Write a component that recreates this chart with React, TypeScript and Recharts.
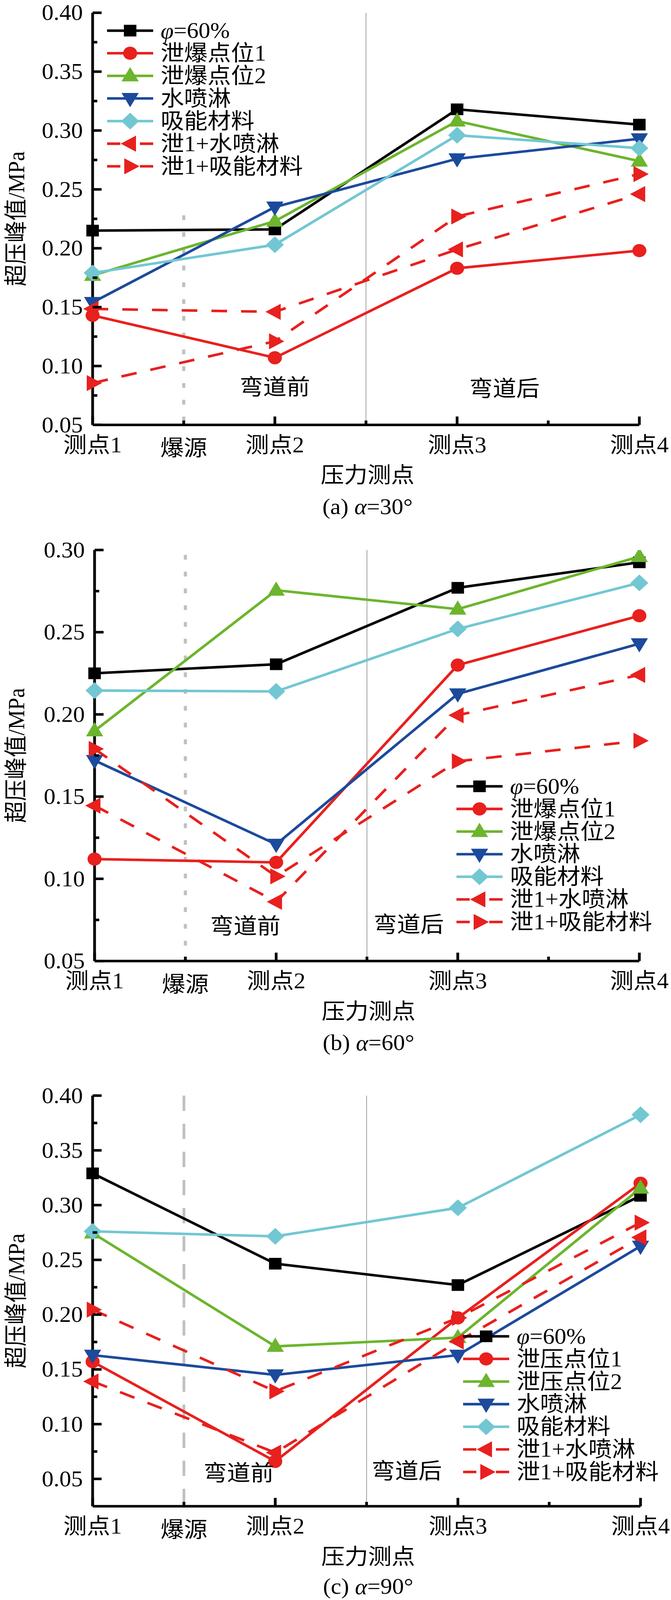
import React from 'react';
import {
  LineChart,
  Line,
  XAxis,
  YAxis,
  ReferenceLine,
  ReferenceDot,
  Legend,
} from 'recharts';

const FONT = "'Liberation Serif', 'Times New Roman', 'Noto Sans CJK SC', serif";
const W = 1717;
const H = 4387;

// x positions of the pressure points (爆源 sits halfway between 测点1 and 测点2)
const xPos = [0, 1, 2, 3];
const xTicks = [0, 0.5, 1, 1.5, 2, 2.5, 3];
const xTickLabels: Record<string, string> = {
  '0': '测点1',
  '0.5': '爆源',
  '1': '测点2',
  '2': '测点3',
  '3': '测点4',
};

const yTicks40 = [0.05, 0.075, 0.1, 0.125, 0.15, 0.175, 0.2, 0.225, 0.25, 0.275, 0.3, 0.325, 0.35, 0.375, 0.4];
const yTicks30 = [0.05, 0.075, 0.1, 0.125, 0.15, 0.175, 0.2, 0.225, 0.25, 0.275, 0.3];

const legendAB = ['φ=60%', '泄爆点位1', '泄爆点位2', '水喷淋', '吸能材料', '泄1+水喷淋', '泄1+吸能材料'];
const legendC = ['φ=60%', '泄压点位1', '泄压点位2', '水喷淋', '吸能材料', '泄1+水喷淋', '泄1+吸能材料'];

// (a) α=30°
const aPhi60 = [0.215, 0.216, 0.318, 0.305];
const aVent1 = [0.143, 0.107, 0.183, 0.198];
const aVent2 = [0.177, 0.223, 0.308, 0.274];
const aSpray = [0.154, 0.235, 0.276, 0.293];
const aAbsorb = [0.179, 0.203, 0.296, 0.285];
const aVent1Spray = [0.1485, 0.146, 0.199, 0.246];
const aVent1Absorb = [0.0855, 0.121, 0.227, 0.263];

// (b) α=60°
const bPhi60 = [0.225, 0.2305, 0.277, 0.2925];
const bVent1 = [0.112, 0.11, 0.23, 0.26];
const bVent2 = [0.19, 0.2755, 0.264, 0.296];
const bSpray = [0.172, 0.121, 0.2125, 0.243];
const bAbsorb = [0.2145, 0.214, 0.252, 0.28];
const bVent1Spray = [0.1445, 0.086, 0.1995, 0.224];
const bVent1Absorb = [0.179, 0.1015, 0.1715, 0.184];

// (c) α=90°
const cPhi60 = [0.329, 0.2465, 0.227, 0.3085];
const cVent1 = [0.157, 0.066, 0.197, 0.32];
const cVent2 = [0.2745, 0.171, 0.179, 0.3155];
const cSpray = [0.163, 0.145, 0.163, 0.2625];
const cAbsorb = [0.276, 0.2715, 0.2975, 0.3825];
const cVent1Spray = [0.139, 0.074, 0.1755, 0.2705];
const cVent1Absorb = [0.2045, 0.13, 0.197, 0.284];

const series = [
  { key: 'phi', color: '#000000', shape: 'square', dashed: false },
  { key: 'vent1', color: '#e8201e', shape: 'circle', dashed: false },
  { key: 'vent2', color: '#6cb52d', shape: 'up', dashed: false },
  { key: 'spray', color: '#1c4a9c', shape: 'down', dashed: false },
  { key: 'absorb', color: '#72c7d3', shape: 'diamond', dashed: false },
  { key: 'v1spray', color: '#e8201e', shape: 'left', dashed: true },
  { key: 'v1absorb', color: '#e8201e', shape: 'right', dashed: true },
];

const build = (cols: number[][]) =>
  xPos.map((x, i) => {
    const row: any = { x };
    series.forEach((s, j) => (row[s.key] = cols[j][i]));
    return row;
  });

const panels = [
  {
    id: 'a', top: 0, height: 1440, plotTop: 35, plotBottom: 1165, plotLeft: 237, plotRight: 1636,
    yDomain: [0.05, 0.4], yTicks: yTicks40,
    data: build([aPhi60, aVent1, aVent2, aSpray, aAbsorb, aVent1Spray, aVent1Absorb]),
    labels: legendAB, legend: { left: 274, top: 53 },
    caption: ['(a) ', 'α', '=30°'], capY: 224,
    srcTop: 0.228, srcDash: '13 33', srcWidth: 8,
    notes: [{ x: 1.0, y: 0.0825, text: '弯道前' }, { x: 2.26, y: 0.081, text: '弯道后' }],
  },
  {
    id: 'b', top: 1440, height: 1460, plotTop: 1508, plotBottom: 2635, plotLeft: 242, plotRight: 1636,
    yDomain: [0.05, 0.3], yTicks: yTicks30,
    data: build([bPhi60, bVent1, bVent2, bSpray, bAbsorb, bVent1Spray, bVent1Absorb]),
    labels: legendAB, legend: { left: 1168, top: 685 },
    caption: ['(b) ', 'α', '=60°'], capY: 224,
    srcTop: 0.297, srcDash: '13 33', srcWidth: 8,
    notes: [{ x: 0.83, y: 0.0713, text: '弯道前' }, { x: 1.73, y: 0.0724, text: '弯道后' }],
  },
  {
    id: 'c', top: 2900, height: 1487, plotTop: 3004, plotBottom: 4130, plotLeft: 237, plotRight: 1639,
    yDomain: [0.025, 0.4], yTicks: yTicks40,
    data: build([cPhi60, cVent1, cVent2, cSpray, cAbsorb, cVent1Spray, cVent1Absorb]),
    labels: legendC, legend: { left: 1185, top: 733 },
    caption: ['(c) ', 'α', '=90°'], capY: 220,
    srcTop: 0.4, srcDash: '42 35', srcWidth: 7,
    notes: [{ x: 0.8, y: 0.0557, text: '弯道前' }, { x: 1.72, y: 0.0574, text: '弯道后' }],
  },
];

const Marker = ({ shape, cx, cy, color }: any) => {
  if (cx == null || cy == null) return null;
  switch (shape) {
    case 'square':
      return <rect x={cx - 16} y={cy - 16} width={32} height={32} fill={color} />;
    case 'circle':
      return <circle cx={cx} cy={cy} r={18} fill={color} />;
    case 'up':
      return <polygon points={`${cx},${cy - 24} ${cx - 22},${cy + 15} ${cx + 22},${cy + 15}`} fill={color} />;
    case 'down':
      return <polygon points={`${cx},${cy + 24} ${cx - 22},${cy - 15} ${cx + 22},${cy - 15}`} fill={color} />;
    case 'diamond':
      return <polygon points={`${cx},${cy - 23} ${cx + 23},${cy} ${cx},${cy + 23} ${cx - 23},${cy}`} fill={color} />;
    case 'left':
      return <polygon points={`${cx - 24},${cy} ${cx + 15},${cy - 22} ${cx + 15},${cy + 22}`} fill={color} />;
    case 'right':
      return <polygon points={`${cx + 24},${cy} ${cx - 15},${cy - 22} ${cx - 15},${cy + 22}`} fill={color} />;
    default:
      return null;
  }
};

const XTick = ({ x, y, payload }: any) => {
  const v = payload.value;
  const major = Number.isInteger(v);
  const label = xTickLabels[String(v)];
  return (
    <g>
      <line x1={x} x2={x} y1={y} y2={y - (major ? 23 : 12)} stroke="#000" strokeWidth={7} />
      {label && (
        <text x={x} y={y + 55 + (v === 0.5 ? 9 : 0)} textAnchor="middle" dominantBaseline="central"
          fontSize={60} fontFamily={FONT} fill="#000">
          {label}
        </text>
      )}
    </g>
  );
};

const YTick = ({ x, y, payload }: any) => {
  const v = payload.value;
  const major = Math.abs(v * 20 - Math.round(v * 20)) < 1e-6;
  return (
    <g>
      <line x1={x} x2={x + (major ? 23 : 12)} y1={y} y2={y} stroke="#000" strokeWidth={7} />
      {major && (
        <text x={x - 25} y={y} textAnchor="end" dominantBaseline="central" fontSize={60} fontFamily={FONT} fill="#000">
          {v.toFixed(2)}
        </text>
      )}
    </g>
  );
};

const LegendBox = ({ labels }: { labels: string[] }) => (
  <svg width={560} height={460} style={{ overflow: 'visible', display: 'block' }}>
    {series.map((s, i) => {
      const cy = 31 + i * 62;
      const text = labels[i];
      return (
        <g key={s.key}>
          {s.dashed ? (
            <>
              <line x1={0} x2={34} y1={cy} y2={cy} stroke={s.color} strokeWidth={7} />
              <line x1={84} x2={118} y1={cy} y2={cy} stroke={s.color} strokeWidth={7} />
            </>
          ) : (
            <line x1={0} x2={118} y1={cy} y2={cy} stroke={s.color} strokeWidth={7} />
          )}
          <Marker shape={s.shape} cx={59} cy={cy} color={s.color} />
          <text x={137} y={cy} dominantBaseline="central" fontSize={60} fontFamily={FONT} fill="#000">
            {text.startsWith('φ') ? (
              <>
                <tspan fontStyle="italic">φ</tspan>
                {text.slice(1)}
              </>
            ) : (
              text
            )}
          </text>
        </g>
      );
    })}
  </svg>
);

const Panel = ({ p }: { p: (typeof panels)[number] }) => {
  const marginTop = p.plotTop - p.top;
  const xAxisHeight = p.height - (p.plotBottom - p.top);
  const right = W - p.plotRight;
  return (
    <div style={{ position: 'absolute', left: 0, top: p.top, width: W, height: p.height }}>
      <LineChart width={W} height={p.height} data={p.data}
        margin={{ top: marginTop, right, left: 0, bottom: 0 }}>
        <XAxis dataKey="x" type="number" domain={[0, 3]} ticks={xTicks} interval={0}
          axisLine={{ stroke: '#000', strokeWidth: 7 }} tickLine={false} tickSize={0} tickMargin={0}
          height={xAxisHeight} tick={<XTick />}
          label={({ viewBox }: any) => (
            <g>
              <text x={viewBox.x + viewBox.width / 2 + 4} y={viewBox.y + 138} textAnchor="middle"
                dominantBaseline="central" fontSize={60} fontFamily={FONT} fill="#000">
                压力测点
              </text>
              <text x={viewBox.x + viewBox.width / 2 + 4} y={viewBox.y + p.capY} textAnchor="middle"
                dominantBaseline="central" fontSize={60} fontFamily={FONT} fill="#000">
                {p.caption[0]}
                <tspan fontStyle="italic">{p.caption[1]}</tspan>
                {p.caption[2]}
              </text>
            </g>
          )}
        />
        <YAxis type="number" domain={p.yDomain} ticks={p.yTicks} interval={0} allowDataOverflow
          axisLine={{ stroke: '#000', strokeWidth: 7 }} tickLine={false} tickSize={0} tickMargin={0}
          width={p.plotLeft} tick={<YTick />}
          label={({ viewBox }: any) => {
            const lx = viewBox.x + 42;
            const ly = viewBox.y + viewBox.height / 2;
            return (
              <text x={lx} y={ly} transform={`rotate(-90 ${lx} ${ly})`} textAnchor="middle"
                dominantBaseline="central" fontSize={60} fontFamily={FONT} fill="#000">
                超压峰值/MPa
              </text>
            );
          }}
        />
        <ReferenceLine segment={[{ x: 0.5, y: p.srcTop }, { x: 0.5, y: p.yDomain[0] }]}
          stroke="#c0c0c0" strokeWidth={p.srcWidth} strokeDasharray={p.srcDash} />
        <ReferenceLine x={1.5} stroke="#a0a0a0" strokeWidth={2} />
        {p.notes.map((n) => (
          <ReferenceDot key={n.text} x={n.x} y={n.y} r={0} fill="none" stroke="none"
            label={{ value: n.text, position: 'center', fontSize: 60, fontFamily: FONT, fill: '#000' }} />
        ))}
        {series.map((s) => (
          <Line key={s.key} dataKey={s.key} type="linear" stroke={s.color} strokeWidth={7}
            strokeDasharray={s.dashed ? '40 36' : undefined} isAnimationActive={false}
            activeDot={false}
            dot={(d: any) => <Marker key={`${s.key}-${d.index}`} shape={s.shape} cx={d.cx} cy={d.cy} color={s.color} />}
          />
        ))}
        <Legend layout="vertical" align="center" verticalAlign="middle"
          wrapperStyle={{ left: p.legend.left, top: p.legend.top, width: 560, height: 460 }}
          content={() => <LegendBox labels={p.labels} />}
        />
      </LineChart>
    </div>
  );
};

export default function App() {
  // the headless window may be shorter than the requested page; fit the figure into it
  const vw = typeof window !== 'undefined' ? window.innerWidth : W;
  const vh = typeof window !== 'undefined' ? window.innerHeight : H;
  const sx = Math.min(1, vw / W);
  const sy = Math.min(1, vh / H);
  return (
    <div style={{ width: W * sx, height: H * sy, overflow: 'hidden', background: '#fff' }}>
      <style>{'html,body{margin:0;overflow:hidden;background:#fff}'}</style>
      <div style={{
        position: 'relative', width: W, height: H, fontFamily: FONT,
        transform: `scale(${sx}, ${sy})`, transformOrigin: '0 0',
      }}>
        {panels.map((p) => (
          <Panel key={p.id} p={p} />
        ))}
      </div>
    </div>
  );
}
